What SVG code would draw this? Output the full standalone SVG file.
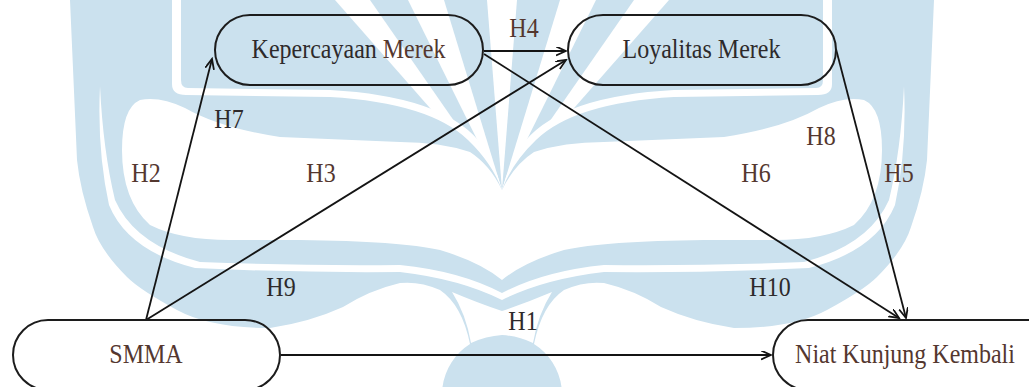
<svg xmlns="http://www.w3.org/2000/svg" xmlns:xlink="http://www.w3.org/1999/xlink" width="1029" height="387" viewBox="0 0 1029 387">
  <style>
    .wm { fill: #cbe1ee; stroke: none; }
    .wh { fill: #ffffff; stroke: none; }
    .node { fill: none; stroke: #1c1c1c; stroke-width: 2; }
    .edge { fill: none; stroke: #141414; stroke-width: 1.8; marker-end: url(#arrow); }
    .lbl { font-family: "Liberation Serif", "Times New Roman", serif; font-size: 24px; text-anchor: middle; }
    .dark { fill: #2e2a2b; }
    .brown { fill: #54372f; }
  </style>
  <defs>
    <marker id="arrow" markerUnits="userSpaceOnUse" markerWidth="12" markerHeight="11" refX="10" refY="4.5" orient="auto">
      <path d="M0,0 L10,4.5 L0,9" fill="none" stroke="#141414" stroke-width="1.8"/>
    </marker>
    <!-- left half of the background emblem; the right half is its mirror image -->
    <g id="emblemHalf">
      <!-- sunburst fan above the wings -->
      <path class="wm" d="M181,0 L502,0 L502,190 Q494,160 478,140 Q440,96 330,90 L188,88 Q181,88 181,80 Z"/>
      <path class="wh" d="M335,0 L370,0 L502,190 Z"/>
      <path class="wh" d="M408,0 L444,0 L502,190 Z"/>
      <!-- crescent, wing, lower book bands and bulb -->
      <path class="wm" d="M70,0 L172,0 L172,84 Q172,95 186,95 L330,97 Q430,103 468,140 Q492,163 502,190 L502,387 L442.5,387 A60,60 0 0 1 470,344 Q462,305 440,290 Q420,281 400,283 Q370,290 343,307 Q310,322 270,328 Q210,328 177,310 Q140,290 127,277 Q100,250 93,227 Q80,190 77,160 Z"/>
      <!-- open space inside the crescent -->
      <path class="wh" d="M502,190 Q490,165 470,152 Q440,142 400,142 L280,137 Q220,128 185,108 Q160,96 140,100 Q122,108 122,150 Q122,200 150,225 Q180,240 230,240 L300,240 Q400,241 440,250 Q480,262 502,280 Z"/>
      <!-- thin line splitting the crescent into two bands -->
      <path class="wh" d="M100,86 Q103,150 115,200 Q135,245 200,262 Q300,266 400,265 Q460,271 502,293 L502,300 Q460,279 400,272 Q300,273 195,268 Q128,251 109,205 Q97,150 100,86 Z"/>
      <!-- pocket between the lower band and the bulb -->
      <path class="wh" d="M502,311 Q478,303 452,292 Q466,314 471,343 Q486,336 502,335 Z"/>
    </g>
  </defs>

  <g id="emblem">
    <use xlink:href="#emblemHalf"/>
    <use xlink:href="#emblemHalf" transform="matrix(-1 0 0 1 1004 0)"/>
    <path class="wh" d="M487,0 L517,0 L502,190 Z"/>
  </g>

  <g id="connectors">
    <line class="edge" x1="146" y1="320" x2="212" y2="59"/>
    <line class="edge" x1="146" y1="320" x2="566" y2="60"/>
    <line class="edge" x1="484" y1="51" x2="566" y2="51"/>
    <line class="edge" x1="484" y1="54" x2="899" y2="318"/>
    <line class="edge" x1="836" y1="49" x2="906" y2="318"/>
    <line class="edge" x1="281" y1="355" x2="771" y2="355"/>
  </g>

  <g id="node-kepercayaan">
    <rect class="node" x="215" y="15" width="268" height="70" rx="35" ry="35"/>
    <text class="lbl dark" transform="translate(348.5,58) scale(1,1.12)">Kepercayaan <tspan class="brown">Merek</tspan></text>
  </g>
  <g id="node-loyalitas">
    <rect class="node" x="568" y="15" width="268" height="70" rx="35" ry="35"/>
    <text class="lbl dark" transform="translate(701.5,58) scale(1,1.12)">Loyalitas Merek</text>
  </g>
  <g id="node-smma">
    <rect class="node" x="13" y="320" width="267" height="70" rx="35" ry="35"/>
    <text class="lbl brown" transform="translate(146,363) scale(1,1.12)">SMMA</text>
  </g>
  <g id="node-niat">
    <rect class="node" x="773" y="320" width="300" height="70" rx="35" ry="35"/>
    <text class="lbl brown" transform="translate(905,363) scale(1,1.12)">Niat Kunjung Kembali</text>
  </g>

  <g id="edge-labels">
    <text class="lbl brown" transform="translate(524,37) scale(1,1.12)">H4</text>
    <text class="lbl dark" transform="translate(229,128) scale(1,1.12)">H7</text>
    <text class="lbl brown" transform="translate(146,182) scale(1,1.12)">H2</text>
    <text class="lbl brown" transform="translate(321,182) scale(1,1.12)">H3</text>
    <text class="lbl dark" transform="translate(281,296) scale(1,1.12)">H9</text>
    <text class="lbl dark" transform="translate(523,330) scale(1,1.12)">H1</text>
    <text class="lbl brown" transform="translate(821,145) scale(1,1.12)">H8</text>
    <text class="lbl brown" transform="translate(756,182) scale(1,1.12)">H6</text>
    <text class="lbl brown" transform="translate(899,182) scale(1,1.12)">H5</text>
    <text class="lbl dark" transform="translate(770,296) scale(1,1.12)">H10</text>
  </g>
</svg>
